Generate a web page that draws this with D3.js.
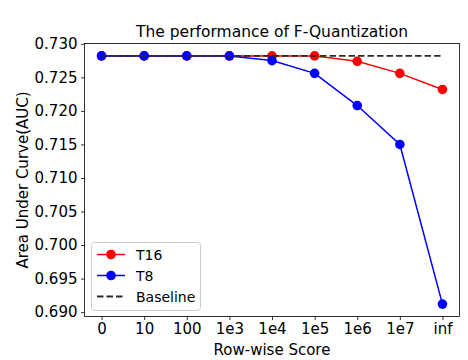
<!DOCTYPE html>
<html>
<head>
<meta charset="utf-8">
<script src="https://cdn.jsdelivr.net/npm/d3@7"></script>
<style>
html,body{margin:0;padding:0;background:#fff;}
svg{display:block;font-family:"DejaVu Sans",sans-serif;}
</style>
</head>
<body>
<svg id="chart" width="468" height="360"></svg>
<script>
const categories = ["0","10","100","1e3","1e4","1e5","1e6","1e7","inf"];
const t16 = [0.7282,0.7282,0.7282,0.7282,0.7282,0.7282,0.7274,0.7256,0.7232];
const t8  = [0.7282,0.7282,0.7282,0.7282,0.7275,0.7256,0.7208,0.7150,0.6912];
const baseline = 0.7282;
const yTicks = [0.690,0.695,0.700,0.705,0.710,0.715,0.720,0.725,0.730];
const seriesNames = ["T16","T8","Baseline"];

const svg = d3.select("#chart");
const L = 84.5, R = 459.5, T = 43.5, B = 316.5;

const x = d3.scaleLinear().domain([-0.4, categories.length - 1 + 0.4]).range([L, R]);
const all = t16.concat(t8, [baseline]);
const mn = d3.min(all), mx = d3.max(all), pad = (mx - mn) * 0.05;
const y = d3.scaleLinear().domain([mn - pad, mx + pad]).range([B, T]);

// axes
const xAxis = d3.axisBottom(x).tickValues(d3.range(categories.length))
  .tickFormat(i => categories[i]).tickSize(3.5).tickPadding(3.5);
const yAxis = d3.axisLeft(y).tickValues(yTicks)
  .tickFormat(d3.format(".3f")).tickSize(3.5).tickPadding(3.5);

const gx = svg.append("g").attr("transform", `translate(0,${B})`).call(xAxis);
const gy = svg.append("g").attr("transform", `translate(${L},0)`).call(yAxis);
[gx, gy].forEach(g => {
  g.select(".domain").remove();
  g.selectAll("line").attr("stroke", "#000").attr("stroke-width", 0.8);
  g.selectAll("text").attr("fill", "#000").style("font-size", "15px")
    .style("font-family", "'DejaVu Sans',sans-serif");
});

// lines
const line = d3.line().x((d, i) => x(i)).y(d => y(d));
function drawSeries(vals, color) {
  svg.append("path").datum(vals).attr("d", line)
    .attr("fill", "none").attr("stroke", color).attr("stroke-width", 1.5);
  svg.selectAll(null).data(vals).enter().append("circle")
    .attr("cx", (d, i) => x(i)).attr("cy", d => y(d)).attr("r", 4.8)
    .attr("fill", color);
}
drawSeries(t16, "#ff0000");
drawSeries(t8, "#0000ff");
svg.append("line")
  .attr("x1", x(0)).attr("x2", x(categories.length - 1))
  .attr("y1", y(baseline)).attr("y2", y(baseline))
  .attr("stroke", "#2a2a2a").attr("stroke-width", 1.8)
  .attr("stroke-dasharray", "6.5,3");

// frame
svg.append("rect").attr("x", L).attr("y", T).attr("width", R - L).attr("height", B - T)
  .attr("fill", "none").attr("stroke", "#000").attr("stroke-width", 0.8);

// title & labels
svg.append("text").attr("x", (L + R) / 2).attr("y", 37).attr("text-anchor", "middle")
  .style("font-size", "15.5px").text("The performance of F-Quantization");
svg.append("text").attr("x", (L + R) / 2).attr("y", 355).attr("text-anchor", "middle")
  .style("font-size", "15px").text("Row-wise Score");
svg.append("text").attr("transform", `translate(27.5,${(T + B) / 2}) rotate(-90)`)
  .attr("text-anchor", "middle").style("font-size", "15px").text("Area Under Curve(AUC)");

// legend
const lg = svg.append("g");
lg.append("rect").attr("x", 91.5).attr("y", 242.5).attr("width", 109).attr("height", 68)
  .attr("rx", 3).attr("fill", "#fff").attr("fill-opacity", 0.8)
  .attr("stroke", "#cccccc").attr("stroke-width", 1);
const colors = ["#ff0000", "#0000ff", "#2a2a2a"];
seriesNames.forEach((name, i) => {
  const yy = 254.5 + i * 21;
  const ln = lg.append("line").attr("x1", 97).attr("x2", 125).attr("y1", yy).attr("y2", yy)
    .attr("stroke", colors[i]).attr("stroke-width", i === 2 ? 1.8 : 1.5);
  if (i === 2) ln.attr("stroke-dasharray", "6.5,3");
  else lg.append("circle").attr("cx", 111).attr("cy", yy).attr("r", 4.8).attr("fill", colors[i]);
  lg.append("text").attr("x", 136).attr("y", yy + 5).style("font-size", "14px").text(name);
});
</script>
</body>
</html>
